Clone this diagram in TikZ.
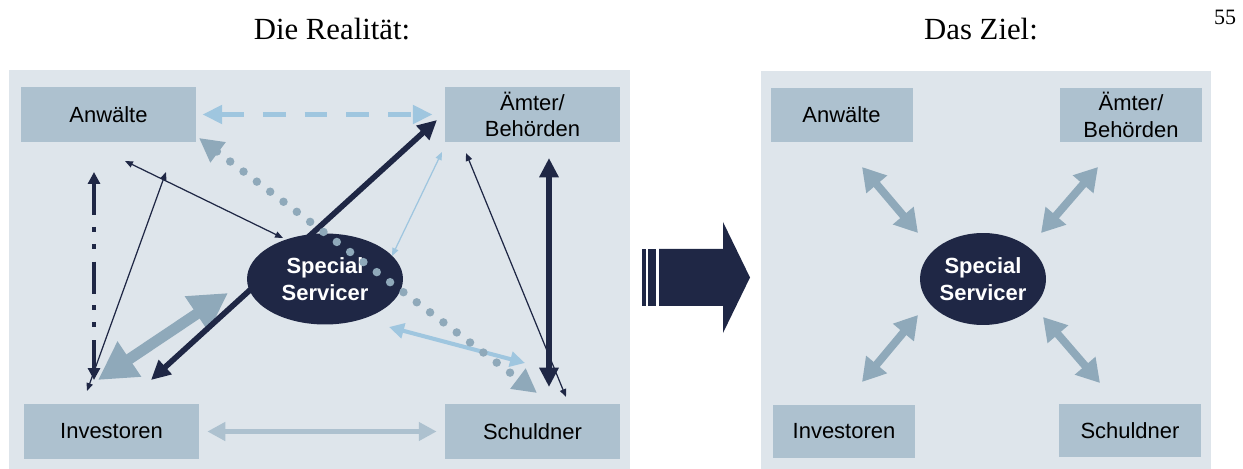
\documentclass[tikz,border=0pt]{standalone}
\usepackage{fontspec}
\setmainfont{Liberation Serif}
\setsansfont{Liberation Sans}
\usetikzlibrary{arrows.meta,shapes.geometric}
\definecolor{panelbg}{HTML}{DEE5EB}
\definecolor{boxfill}{HTML}{ADC1CF}
\definecolor{navy}{HTML}{1F2745}
\definecolor{greyblue}{HTML}{8FA9BA}
\definecolor{lightblue}{HTML}{9FC6DF}
\definecolor{paleblue}{HTML}{ADC1CF}

\begin{document}
\begin{tikzpicture}[x=0.02cm,y=-0.02cm,
	box/.style={rectangle,fill=boxfill,inner sep=0pt,align=center,
		font=\sffamily\fontsize{12.5}{15}\selectfont},
	wide/.style={box,minimum width=3.5cm,minimum height=1.1cm},
	narrow/.style={box,minimum width=2.84cm,minimum height=1.08cm},
	servicer/.style={ellipse,fill=navy,text=white,inner sep=0pt,align=center,
		font=\sffamily\bfseries\fontsize{12.5}{15.3}\selectfont},
	heading/.style={anchor=base,font=\fontsize{17.5}{21}\selectfont},
	thinlink/.style={draw=navy,line width=0.7pt,<->,>={Triangle[length=4.5pt,width=3.6pt]}},
	skylink/.style={draw=lightblue,line width=0.7pt,<->,>={Triangle[length=4.5pt,width=3.6pt]}},
	dashlink/.style={draw=lightblue,line width=3.4pt,dash pattern=on 13pt off 10.8pt,<->,>={Triangle[length=11.3pt,width=10.2pt]}},
	dotlink/.style={draw=greyblue,line width=4.8pt,line cap=round,dash pattern=on 0pt off 9.5pt,<->,>={Triangle[length=13.6pt,width=13.6pt]}},
	boldlink/.style={draw=navy,line width=3.2pt,<->,>={Triangle[length=11pt,width=10.5pt]}},
	dashdotlink/.style={draw=navy,line width=2.3pt,dash pattern=on 18.1pt off 6.8pt on 2.8pt off 6.8pt on 2.8pt off 7.4pt,<->,>={Triangle[length=6.8pt,width=6.8pt]}},
	fatlink/.style={draw=greyblue,line width=6.2pt,<->,>={Triangle[length=21.5pt,width=22.7pt]}},
	mediumlink/.style={draw=lightblue,line width=2.3pt,<->,>={Triangle[length=8.5pt,width=8.5pt]}},
	flatlink/.style={draw=paleblue,line width=2.8pt,<->,>={Triangle[length=10.2pt,width=10.2pt]}},
	hublink/.style={draw=greyblue,line width=4.5pt,<->,>={Triangle[length=13pt,width=14.7pt]}}]
\useasboundingbox (0,0) rectangle (1243,469);

% panels
\fill[panelbg] (9,70) rectangle (630,469);
\fill[panelbg] (761,71) rectangle (1211,469);

% headings
\node[heading] (real) at (332,40) {Die Realität:};
\node[heading] (goal) at (981,40) {Das Ziel:};
\node[anchor=base,font=\fontsize{12.5}{15}\selectfont] (page) at (1225,25) {55};

% transition arrow
\fill[navy] (642,249) rectangle (646,306);
\fill[navy] (648,249) rectangle (656,306);
\fill[navy] (659,249) -- (723,249) -- (723,222) -- (750,277.5)
	-- (723,333) -- (723,306) -- (659,306) -- cycle;

% left: parties
\node[wide] (anw) at (108.5,114.5) {Anwälte};
\node[wide] (amt) at (532.5,114.5) {Ämter/\\Behörden};
\node[wide] (inv) at (111.5,431.5) {Investoren};
\node[wide] (sch) at (532.5,431.5) {Schuldner};

% free ends
\coordinate (b1) at (199,138);
\coordinate (b2) at (537,393);
\coordinate (c1) at (151,380);
\coordinate (c2) at (437,120);
\coordinate (d1) at (125,161);
\coordinate (d2) at (283,238);
\coordinate (e1) at (87,391);
\coordinate (e2) at (166,172);
\coordinate (f1) at (94,172);
\coordinate (f2) at (94,380);
\coordinate (g1) at (98,380);
\coordinate (g2) at (228,293);
\coordinate (i1) at (392,256);
\coordinate (i2) at (442,152);
\coordinate (j1) at (566,397);
\coordinate (j2) at (466,153);
\coordinate (k1) at (549,158);
\coordinate (k2) at (549,387);
\coordinate (l1) at (389,327);
\coordinate (l2) at (525,363);

\draw[dashlink,shorten <=0.12cm,shorten >=0.24cm] (anw.east) -- (amt.west);
\draw[flatlink,shorten <=0.16cm,shorten >=0.16cm] (inv.east) -- (sch.west);
\draw[dashdotlink] (f1) -- (f2);
\draw[thinlink] (e1) -- (e2);
\draw[thinlink] (d1) -- (d2);
\draw[fatlink] (g1) -- (g2);
\draw[boldlink] (c1) -- (c2);

\node[servicer,minimum width=3.12cm,minimum height=1.82cm] (ss) at (325,279) {Special\\Servicer};

\draw[skylink] (i1) -- (i2);
\draw[thinlink] (j1) -- (j2);
\draw[boldlink] (k1) -- (k2);
\draw[mediumlink] (l1) -- (l2);
\draw[dotlink] (b1) -- (b2);

% right: target
\node[narrow] (anwz) at (841.5,115) {Anwälte};
\node[narrow] (amtz) at (1131,115) {Ämter/\\Behörden};
\node[narrow] (invz) at (844,431.5) {Investoren};
\node[narrow] (schz) at (1130,430.5) {Schuldner};
\node[servicer,minimum width=2.52cm,minimum height=1.84cm] (ssz) at (983,279) {Special\\Servicer};

\coordinate (p1) at (862,167);
\coordinate (p2) at (918,233);
\coordinate (q1) at (1098,167);
\coordinate (q2) at (1041,233);
\coordinate (r1) at (918,315);
\coordinate (r2) at (862,382);
\coordinate (s1) at (1043,317);
\coordinate (s2) at (1100,383);

\draw[hublink] (p1) -- (p2);
\draw[hublink] (q1) -- (q2);
\draw[hublink] (r1) -- (r2);
\draw[hublink] (s1) -- (s2);
\end{tikzpicture}
\end{document}
